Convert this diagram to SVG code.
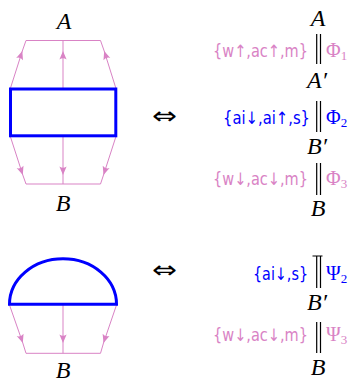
<svg xmlns="http://www.w3.org/2000/svg" width="350" height="385" viewBox="0 0 350 385">
<defs>
<style>
.pk{fill:none;stroke:#d983c5;stroke-width:1}
.bl{fill:none;stroke:#0000ff;stroke-width:3}
.arr{marker-mid:url(#ar)}
.lab{font-family:"Liberation Serif",serif;font-style:italic;font-size:24px;fill:#000;text-anchor:middle}
.set{font-family:"DejaVu Sans",sans-serif;font-size:17px;text-anchor:end}
.gr{font-family:"Liberation Serif",serif;font-size:20px}
.sub{font-size:13px}
.pkt{fill:#d983c5}
.blt{fill:#0000ff}
.bar{stroke:#000;stroke-width:1.2;fill:none}
.iff{font-family:"DejaVu Sans",sans-serif;font-size:24px;fill:#000}
</style>
<marker id="ar" viewBox="-10 -5 11 10" refX="0" refY="0" markerWidth="11" markerHeight="10" orient="auto" markerUnits="userSpaceOnUse">
<path d="M0,0 L-8.5,-3.6 Q-6,0 -8.5,3.6 Z" fill="#d983c5"/>
</marker>
</defs>

<g id="connectors">
<path class="pk" d="M26,40.5 H100.5"/>
<path class="pk arr" d="M10.5,88 L22.3,51 L26,40.5"/>
<path class="pk arr" d="M63,88 L63,51 L63,40.5"/>
<path class="pk arr" d="M115.8,88 L104.2,51 L100.5,40.5"/>
<path class="pk arr" d="M10.5,137 L22.8,175 L26,184"/>
<path class="pk arr" d="M63,137 L63,175 L63,184"/>
<path class="pk arr" d="M115.8,137 L103.5,175 L100.5,184"/>
<path class="pk" d="M26,184 H100.5"/>
<path class="pk arr" d="M9.5,305 L22.8,343 L26,353.3"/>
<path class="pk arr" d="M63,305 L63,343 L63,353.3"/>
<path class="pk arr" d="M116.5,305 L103.5,343 L100.5,353.3"/>
<path class="pk" d="M26,353.3 H100.5"/>
</g>

<g id="rect-node"><rect class="bl" x="10.5" y="89" width="105.3" height="46.8"/></g>
<g id="dome-node"><path class="bl" d="M9.5,304.3 A53.5,45.5 0 0 1 116.5,304.3 Z"/></g>

<g id="label-A-left"><text class="lab" x="64" y="29">A</text></g>
<g id="label-B-left1"><text class="lab" x="63" y="211">B</text></g>
<g id="label-B-left2"><text class="lab" x="63" y="378">B</text></g>

<g id="iff1"><text class="iff" x="152" y="124" textLength="25" lengthAdjust="spacingAndGlyphs">⇔</text></g>
<g id="iff2"><text class="iff" x="152" y="278" textLength="25" lengthAdjust="spacingAndGlyphs">⇔</text></g>

<g id="chain1">
<text class="lab" x="318" y="26">A</text>
<text class="set pkt" x="308" y="57" textLength="95" lengthAdjust="spacingAndGlyphs">{w↑,ac↑,m}</text>
<path class="bar" d="M316.7,34 V64 M320.5,34 V64"/>
<text class="gr pkt" x="326" y="57">Φ<tspan class="sub" dy="3">1</tspan></text>
<text class="lab" x="317" y="88">A′</text>
<text class="set blt" x="310" y="124" textLength="87" lengthAdjust="spacingAndGlyphs">{ai↓,ai↑,s}</text>
<path class="bar" d="M316.7,101 V132 M320.5,101 V132"/>
<text class="gr blt" x="326" y="124">Φ<tspan class="sub" dy="3">2</tspan></text>
<text class="lab" x="317" y="154">B′</text>
<text class="set pkt" x="308" y="185" textLength="95" lengthAdjust="spacingAndGlyphs">{w↓,ac↓,m}</text>
<path class="bar" d="M316.7,163 V195 M320.5,163 V195"/>
<text class="gr pkt" x="326" y="185">Φ<tspan class="sub" dy="3">3</tspan></text>
<text class="lab" x="318" y="216">B</text>
</g>

<g id="chain2">
<text class="set blt" x="308" y="280" textLength="55" lengthAdjust="spacingAndGlyphs">{ai↓,s}</text>
<path class="bar" d="M312.5,256 H322.5 M316.7,256 V288 M320.5,256 V288"/>
<text class="gr blt" x="326" y="280">Ψ<tspan class="sub" dy="3">2</tspan></text>
<text class="lab" x="317" y="310">B′</text>
<text class="set pkt" x="308" y="341" textLength="95" lengthAdjust="spacingAndGlyphs">{w↓,ac↓,m}</text>
<path class="bar" d="M316.7,322 V353 M320.5,322 V353"/>
<text class="gr pkt" x="326" y="341">Ψ<tspan class="sub" dy="3">3</tspan></text>
<text class="lab" x="318" y="375">B</text>
</g>
</svg>
